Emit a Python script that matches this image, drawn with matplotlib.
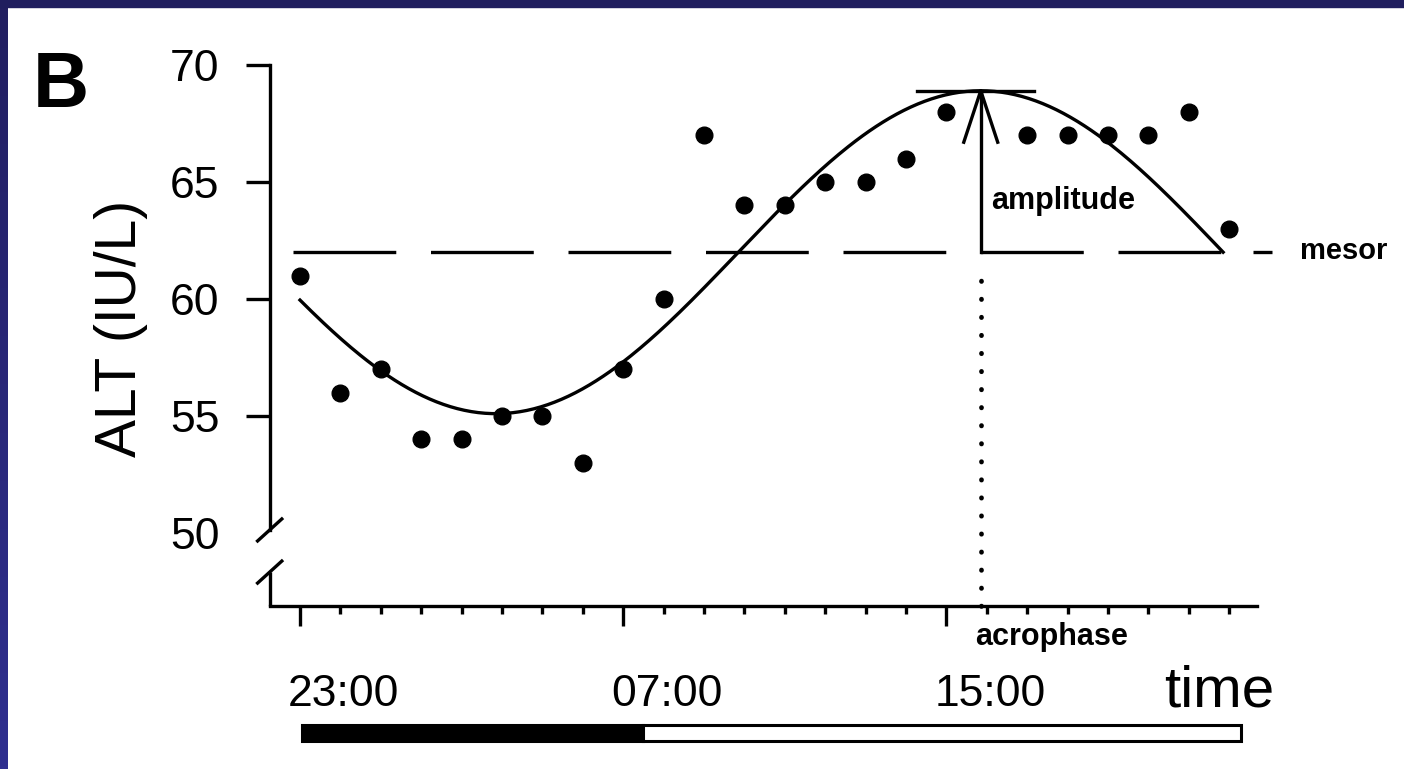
import numpy as np
import matplotlib.pyplot as plt
from matplotlib.patches import Rectangle
from matplotlib.colors import LinearSegmentedColormap

plt.rcParams['font.family'] = ['Liberation Sans', 'DejaVu Sans']
plt.rcParams['lines.scale_dashes'] = False

# -----------------------------
# Data (hours counted from 23:00)
# -----------------------------
hours = [0, 1, 2, 3, 4, 5, 6, 7, 8, 9, 10, 11, 12, 13, 14, 15, 16,
         18, 19, 20, 21, 22, 23]
alt = [61, 56, 57, 54, 54, 55, 55, 53, 57, 60, 67, 64, 64, 65, 65, 66, 68,
       67, 67, 67, 67, 68, 63]

# cosinor fit
mesor = 62.0
amplitude = 6.9
acrophase = 16.85      # hours after 23:00

y_ticks = [50, 55, 60, 65, 70]
x_major = [0, 8, 16]
x_major_labels = ['23:00', '07:00', '15:00']

# light / dark bar
bar_start = [0.05, 8.5]
bar_len = [8.45, 14.8]
bar_colors = ['black', 'white']

# -----------------------------
# Figure setup (pixel mapping)
# -----------------------------
W, H = 1404, 769
fig = plt.figure(figsize=(W / 100, H / 100), dpi=100, facecolor='white')

# dark frame on top and left
fig.patches.append(Rectangle((0, 1 - 7 / H), 1, 7 / H, transform=fig.transFigure,
                             color='#201e5e', zorder=10))
bax = fig.add_axes([0, 0, 8 / W, 1])
grad = np.linspace(0, 1, 256).reshape(-1, 1)
cmap = LinearSegmentedColormap.from_list('frame', ['#221f60', '#2f2f90'])
bax.imshow(grad, aspect='auto', cmap=cmap)
bax.axis('off')

x0px, sx = 300, 40.4     # hour 0 pixel, px per hour
y70px, sy = 65, 23.4     # value 70 pixel, px per unit
xlim = (-3, 27)
ylim = (40, 72)
left = x0px + xlim[0] * sx
right = x0px + xlim[1] * sx
top = y70px + (70 - ylim[1]) * sy
bottom = y70px + (70 - ylim[0]) * sy
ax = fig.add_axes([left / W, 1 - bottom / H, (right - left) / W, (bottom - top) / H])
ax.set_xlim(*xlim)
ax.set_ylim(*ylim)
ax.patch.set_alpha(0)

lw = 2.4
axis_x = -0.75
axis_y = 46.9
break_hi = 50.13
break_lo = 48.33

for s in ['top', 'right']:
    ax.spines[s].set_visible(False)
ax.spines['left'].set_position(('data', axis_x))
ax.spines['left'].set_bounds(break_hi, 70)
ax.spines['bottom'].set_position(('data', axis_y))
ax.spines['bottom'].set_bounds(axis_x, 23.7)
ax.spines['left'].set_linewidth(lw)
ax.spines['bottom'].set_linewidth(lw)

# axis break
ax.plot([axis_x, axis_x], [axis_y, break_lo], color='black', lw=lw, solid_capstyle='butt')
for yb in [break_hi, break_lo]:
    ax.plot([axis_x - 0.3, axis_x + 0.3], [yb - 0.47, yb + 0.47], color='black', lw=lw)

# y ticks
ax.set_yticks(y_ticks)
ax.tick_params(axis='y', direction='out', length=17.3, width=lw, labelsize=32, pad=19)
ax.yaxis.get_major_ticks()[0].tick1line.set_visible(False)

# x ticks
ax.set_xticks(x_major)
ax.set_xticks(range(24), minor=True)
ax.tick_params(axis='x', which='major', direction='out', length=14.4, width=lw, labelbottom=False)
ax.tick_params(axis='x', which='minor', direction='out', length=5.8, width=lw)
for h, lab in zip(x_major, x_major_labels):
    ax.text(h - 0.3, 42.6, lab, fontsize=32, ha='left', va='baseline')
ax.text(21.4, 42.6, 'time', fontsize=42, ha='left', va='baseline')

# mesor dashed line
ax.plot([-0.17, acrophase + 6], [mesor, mesor], color='black', lw=lw,
        dashes=(74, 25), solid_capstyle='butt', dash_capstyle='butt')
ax.plot([23.6, 24.06], [mesor, mesor], color='black', lw=lw, solid_capstyle='butt')
ax.text(24.75, 61.7, 'mesor', fontsize=21, fontweight='bold', va='baseline')

# cosinor curve
t = np.linspace(0, acrophase + 6, 400)
fit = mesor + amplitude * np.cos(2 * np.pi * (t - acrophase) / 24)
ax.plot(t, fit, color='black', lw=lw)

# data points
ax.plot(hours, alt, 'o', color='black', markersize=12)

# amplitude arrow and peak cap
peak = mesor + amplitude
ax.plot([acrophase, acrophase], [mesor, peak], color='black', lw=lw)
ax.plot([acrophase - 0.42, acrophase, acrophase + 0.42], [peak - 2.2, peak, peak - 2.2],
        color='black', lw=lw)
ax.plot([acrophase - 1.58, acrophase + 1.32], [peak, peak], color='black', lw=lw)
ax.text(acrophase + 0.25, 63.85, 'amplitude', fontsize=22, fontweight='bold', va='baseline')

# acrophase dotted line
ax.plot([acrophase, acrophase], [axis_y, mesor - 0.7], color='black', lw=3.4,
        dashes=(0.3, 12.7), dash_capstyle='round')
ax.text(acrophase - 0.15, 45.2, 'acrophase', fontsize=22, fontweight='bold', va='baseline')

# light / dark bar
ax.barh([41.45, 41.45], bar_len, left=bar_start, height=0.7, color=bar_colors,
        edgecolor='black', linewidth=2.2)

# panel letter and y label
fig.text(33 / W, 1 - 107 / H, 'B', fontsize=56, fontweight='bold', va='baseline')
fig.text(121 / W, 1 - 328 / H, 'ALT (IU/L)', fontsize=41, rotation=90,
         ha='center', va='center')

fig.savefig('out.png', dpi=100)
